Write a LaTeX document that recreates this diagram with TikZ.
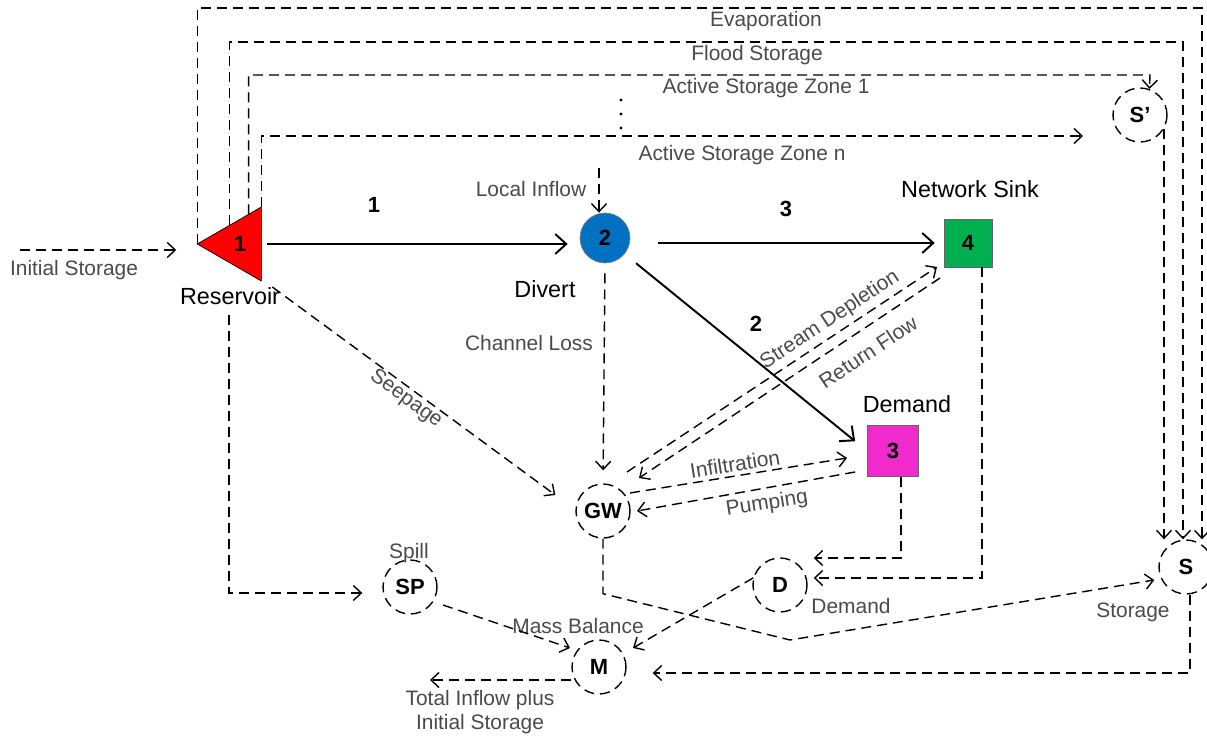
\documentclass[tikz,border=0pt]{standalone}
\usepackage{fontspec}
\setmainfont{Liberation Sans}
\usetikzlibrary{arrows.meta,shapes.geometric,calc}

\definecolor{resred}{HTML}{FF0000}
\definecolor{divblue}{HTML}{0070C0}
\definecolor{sinkgreen}{HTML}{00B050}
\definecolor{dempink}{HTML}{F02ACB}
\definecolor{txtgrey}{HTML}{4A4A4A}

\begin{document}
\begin{tikzpicture}[x=0.02cm,y=-0.02cm,
  flow/.style={line width=0.8pt,dash pattern=on 2mm off 1.2mm,
    -{Straight Barb[length=1.6mm,width=3mm]}},
  link/.style={line width=1.1pt,-{Straight Barb[length=2.2mm,width=4mm]}},
  pool/.style={circle,draw,line width=0.8pt,dash pattern=on 2mm off 1.2mm,
    minimum size=1.08cm,inner sep=0pt,font=\bfseries\fontsize{12.5}{15}\selectfont},
  box/.style={draw=black!60,minimum size=#1,inner sep=0pt,
    font=\bfseries\fontsize{12.5}{15}\selectfont},
  lbl/.style={text=txtgrey,inner sep=0pt,font=\fontsize{11.9}{13.6}\selectfont},
  tag/.style={inner sep=0pt,font=\fontsize{13.3}{16}\selectfont},
  num/.style={inner sep=0pt,font=\bfseries\fontsize{12.5}{15}\selectfont}]
\useasboundingbox (0,0) rectangle (1207,740);

% nodes
\node[regular polygon,regular polygon sides=3,shape border rotate=90,draw,
  fill=resred,minimum size=1.71cm,inner sep=0pt,outer sep=0pt,
  font=\bfseries\fontsize{12.5}{15}\selectfont] (res) at (240,244) {1};
\node[circle,draw=black!50,fill=divblue,minimum size=1cm,inner sep=0pt,
  font=\bfseries\fontsize{12.5}{15}\selectfont] (div) at (605,238) {2};
\node[box=0.96cm,fill=sinkgreen] (sink) at (968,243) {4};
\node[box=1.02cm,fill=dempink] (dem) at (893,451) {3};
\node[pool] (gw) at (603,511) {GW};
\node[pool] (sp) at (410,587) {SP};
\node[pool] (mb) at (599,667) {M};
\node[pool] (dd) at (780,585) {D};
\node[pool] (st) at (1186,567) {S};
\node[pool] (stp) at (1140,115) {S’};

% node titles
\node[tag] (reslbl) at (230,296) {Reservoir};
\node[tag] at (545,289) {Divert};
\node[tag] at (970,189) {Network Sink};
\node[tag] at (907,404) {Demand};
\node[num] at (374,205) {1};
\node[num] at (786,209) {3};
\node[num] at (756,324) {2};

% flow labels
\node[lbl] at (74,270) {Initial Storage};
\node[lbl] at (531,189) {Local Inflow};
\node[lbl] at (766,21) {Evaporation};
\node[lbl] at (757,55) {Flood Storage};
\node[lbl] at (766,88) {Active Storage Zone 1};
\node[lbl] at (742,155) {Active Storage Zone n};
\node[lbl] at (529,343) {Channel Loss};
\node[lbl,rotate=-36] at (406,399) {Seepage};
\node[lbl,rotate=33.5] at (830,320) {Stream Depletion};
\node[lbl,rotate=33.5] at (868,352) {Return Flow};
\node[lbl,rotate=9] at (735,464) {Infiltration};
\node[lbl,rotate=9] at (767,504) {Pumping};
\node[lbl] at (409,553) {Spill};
\node[lbl] at (578,626) {Mass Balance};
\node[lbl] at (851,606) {Demand};
\node[lbl] at (1133,612) {Storage};
\node[lbl,align=center] at (480,712) {Total Inflow plus\\Initial Storage};
\foreach \y in {100,114,128}
  \fill (621,\y) circle (1.6);

% free ends
\coordinate (init) at (20,250);
\coordinate (loc) at (599,168);
\coordinate (evap) at (1202,8);
\coordinate (flood) at (1183,42);
\coordinate (zone1) at (1150,75);
\coordinate (zonen) at (1083,136);
\coordinate (dip) at (790,640);
\coordinate (tot) at (430,680);

% links
\draw[link,shorten <=0.12cm,shorten >=0.24cm] (res.corner 3 |- res.center) -- (res.center -| div.west);
\draw[link,shorten <=0.56cm,shorten >=0.18cm] (sink.west -| div.east) -- (sink.west);
\draw[link,shorten <=0.8cm,shorten >=0.31cm] (div.center) -- (dem.west);

% flows
\draw[flow,shorten >=0.42cm] (init) -- (init -| res.corner 1);
\draw[flow] (loc) -- (loc |- div.north);
\draw[flow] (res.corner 1) |- (evap) -- (evap |- st.north);
\draw[flow] ($(res.corner 1)!0.5!(res.corner 3)$) |- (flood) -- (flood |- st.north);
\draw[flow] ($(res.corner 1)!0.8!(res.corner 3)$) |- (zone1) -- (stp.70);
\draw[flow] (res.corner 3) |- (zonen);
\draw[flow] (stp.-30) -- (stp.-30 |- st.north);
\draw[flow] ([shift={(11,6)}]res.corner 2) -- ([shift={(-20,-16)}]gw.west);
\draw[flow,shorten <=0.2cm,shorten >=0.26cm] (div.south) -- (gw.north);
\draw[flow] ([shift={(24,-39)}]gw.center) -- ([shift={(-31,24)}]sink.center);
\draw[flow] ([shift={(-28,35)}]sink.center) -- ([shift={(36,-33)}]gw.center);
\draw[flow] ([shift={(27,-18)}]gw.center) -- ([shift={(-46,7)}]dem.center);
\draw[flow] ([shift={(-38,21)}]dem.center) -- ([shift={(34,0)}]gw.center);
\draw[flow] ([shift={(8,0)}]dem.south) |- ([shift={(6,-27)}]dd.east);
\draw[flow] ([shift={(14,0)}]sink.south) |- ([shift={(6,-7)}]dd.east);
\draw[flow] (dd.165) -- ([shift={(34,-19)}]mb.center);
\draw[flow] ([shift={(33,18)}]sp.center) -- ([shift={(-29,-19)}]mb.center);
\draw[flow] (gw.south) -- ++(0,55) -- (dip) -- ([shift={(-4,13)}]st.west);
\draw[flow] ([shift={(4,0)}]st.south) |- ([shift={(26,6)}]mb.east);
\draw[flow] (mb.west |- tot) -- (tot);
\draw[flow] ([shift={(-1,10)}]reslbl.south) |- ([shift={(-20,6)}]sp.west);
\end{tikzpicture}
\end{document}
